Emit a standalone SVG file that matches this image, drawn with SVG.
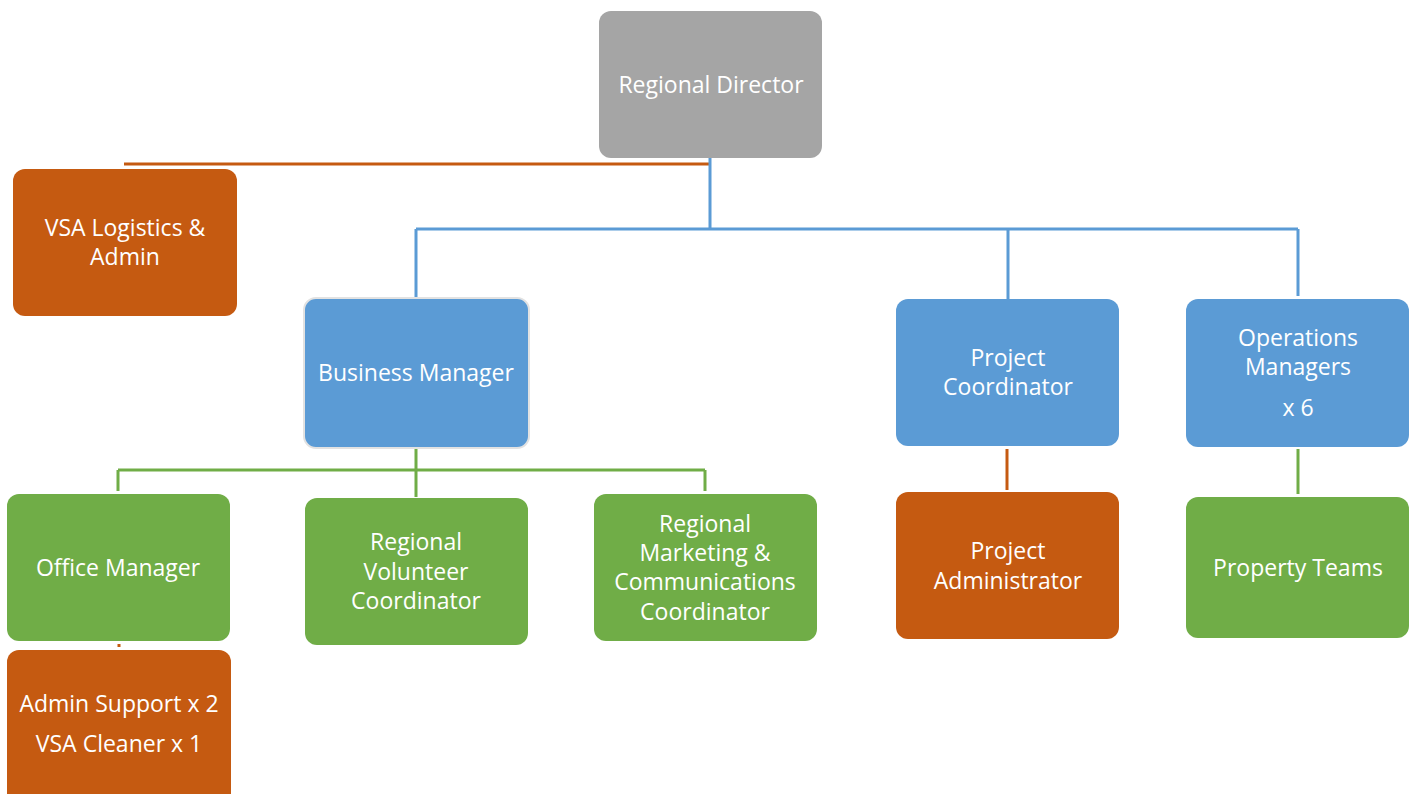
<svg xmlns="http://www.w3.org/2000/svg" width="1416" height="794" viewBox="0 0 1416 794">
<style>
.t{font-family:"Open Sans","Noto Sans","DejaVu Sans",sans-serif;font-size:23px;fill:#fff;text-anchor:middle}
.gray{fill:#A5A5A5}
.org{fill:#C55A11}
.blue{fill:#5B9BD5}
.grn{fill:#70AD47}
.cb{stroke:#5B9BD5;stroke-width:3;fill:none}
.co{stroke:#C55A11;stroke-width:3;fill:none}
.cg{stroke:#70AD47;stroke-width:3;fill:none}
</style>
<rect width="1416" height="794" fill="#fff"/>
<g id="connectors">
<path class="co" d="M124 164H710"/>
<path class="cb" d="M710 158V229M416 229H1298M416 229V298M1008 229V299M1298 229V296"/>
<path class="cg" d="M416 448V497M118 470H705M118 470V491M705 470V491"/>
<path class="co" d="M1007 449V490"/>
<path class="cg" d="M1298 449V494"/>
<path class="co" d="M119 644V647"/>
</g>
<g id="regional-director"><rect class="gray" x="599" y="11" width="223" height="147" rx="12"/><text class="t" x="711" y="93">Regional Director</text></g>
<g id="vsa-logistics"><rect class="org" x="13" y="169" width="224" height="147" rx="12"/><text class="t" x="125" y="236">VSA Logistics &amp;</text><text class="t" x="125" y="265">Admin</text></g>
<g id="business-manager"><rect class="blue" x="304" y="298" width="225" height="150" rx="12" stroke="#E2E2E2" stroke-width="2"/><text class="t" x="416" y="381">Business Manager</text></g>
<g id="project-coordinator"><rect class="blue" x="896" y="299" width="223" height="147" rx="12"/><text class="t" x="1008" y="366">Project</text><text class="t" x="1008" y="395">Coordinator</text></g>
<g id="operations-managers"><rect class="blue" x="1186" y="299" width="223" height="148" rx="12"/><text class="t" x="1298" y="346">Operations</text><text class="t" x="1298" y="375">Managers</text><text class="t" x="1298" y="416">x 6</text></g>
<g id="office-manager"><rect class="grn" x="7" y="494" width="223" height="147" rx="12"/><text class="t" x="118" y="576">Office Manager</text></g>
<g id="regional-volunteer"><rect class="grn" x="305" y="498" width="223" height="147" rx="12"/><text class="t" x="416" y="550">Regional</text><text class="t" x="416" y="580">Volunteer</text><text class="t" x="416" y="609">Coordinator</text></g>
<g id="regional-marketing"><rect class="grn" x="594" y="494" width="223" height="147" rx="12"/><text class="t" x="705" y="532">Regional</text><text class="t" x="705" y="561">Marketing &amp;</text><text class="t" x="705" y="590">Communications</text><text class="t" x="705" y="620">Coordinator</text></g>
<g id="project-administrator"><rect class="org" x="896" y="492" width="223" height="147" rx="12"/><text class="t" x="1008" y="559">Project</text><text class="t" x="1008" y="589">Administrator</text></g>
<g id="property-teams"><rect class="grn" x="1186" y="497" width="223" height="141" rx="12"/><text class="t" x="1298" y="576">Property Teams</text></g>
<g id="admin-support"><rect class="org" x="7" y="650" width="224" height="160" rx="12"/><text class="t" x="119" y="712">Admin Support x 2</text><text class="t" x="119" y="752">VSA Cleaner x 1</text></g>
</svg>
